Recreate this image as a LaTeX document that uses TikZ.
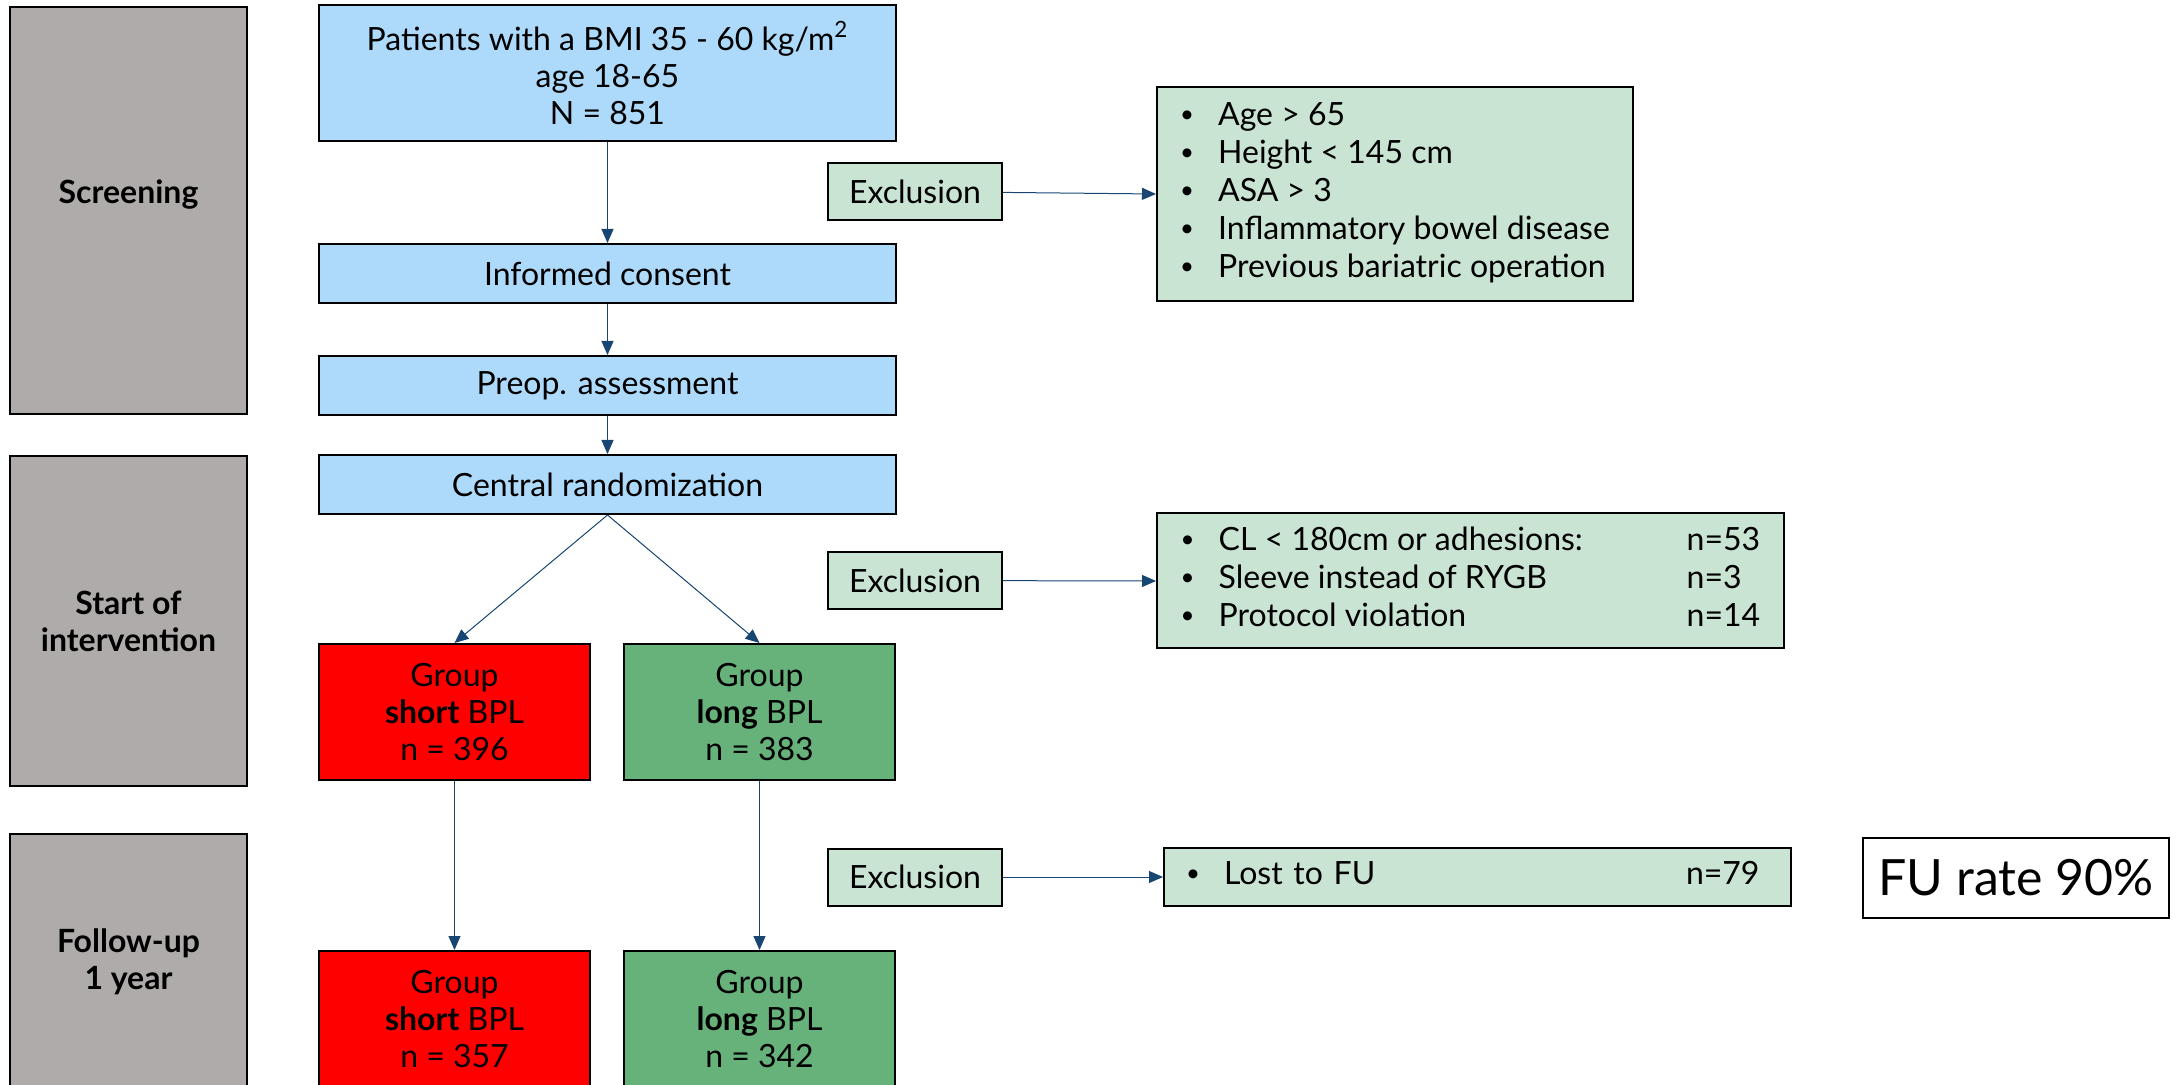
\documentclass[tikz,border=0pt]{standalone}
\usepackage{fontspec}
\setmainfont{Lato}
\usetikzlibrary{arrows.meta}

\definecolor{phasegray}{RGB}{175,171,171}
\definecolor{stepblue}{RGB}{173,218,251}
\definecolor{exclgreen}{RGB}{201,228,211}
\definecolor{longgreen}{RGB}{103,178,122}
\definecolor{arrowblue}{RGB}{23,70,115}

\newcommand{\blt}{\raisebox{0.2ex}{\fontsize{12}{12}\selectfont\textbullet}}

\tikzset{
    box/.style={draw=black, line width=1pt, align=center, inner sep=2pt, font=\fontsize{16}{18.5}\selectfont},
    phase/.style={box, fill=phasegray, minimum width=118.5pt},
    phaselabel/.style={align=center, font=\fontsize{16}{18.5}\selectfont\bfseries},
    stepbox/.style={box, fill=stepblue, minimum width=288.5pt, minimum height=29.5pt},
    shortgrp/.style={box, fill=red, minimum width=135.5pt, minimum height=68pt},
    longgrp/.style={box, fill=longgreen, minimum width=135.5pt, minimum height=68pt},
    excl/.style={box, fill=exclgreen, minimum width=87pt, minimum height=28.5pt},
    crit/.style={box, fill=exclgreen, align=left, anchor=west, inner xsep=9.5pt, font=\fontsize{16}{19}\selectfont},
    flow/.style={-{Triangle[length=7pt,width=6pt]}, draw=arrowblue, line width=0.5pt},
}

\begin{document}
\begin{tikzpicture}[x=0.5pt, y=-0.5pt]
    \useasboundingbox (0,0) rectangle (2176,1085);

    % phases
    \node[phase, minimum height=203.5pt, label={[phaselabel, yshift=8pt]center:Screening}] (scr) at (128.5,210.5) {};
    \node[phase, minimum height=165pt, font=\fontsize{16}{18.5}\selectfont\bfseries] (start) at (128.5,621) {Start of\\intervention};
    \node[phase, minimum height=133pt, label={[phaselabel, yshift=2.5pt]center:Follow-up\\1 year}] (fu) at (128.5,967) {};

    % screening steps
    \node[stepbox, minimum height=68pt] (pat) at (607.5,73) {Patients with a BMI 35 - 60 kg/m\textsuperscript{2}\\age 18-65\\N = 851};
    \node[stepbox] (cons) at (607.5,273.5) {Informed consent};
    \node[stepbox] (preop) at (607.5,385.5) {Preop. assessment};
    \node[stepbox] (rand) at (607.5,484.5) {Central randomization};

    % groups
    \node[shortgrp] (short) at (454.5,712) {Group\\\textbf{short} BPL\\n = 396};
    \node[longgrp] (long) at (759.5,712) {Group\\\textbf{long} BPL\\n = 383};
    \node[shortgrp] (short2) at (454.5,1019) {Group\\\textbf{short} BPL\\n = 357};
    \node[longgrp] (long2) at (759.5,1019) {Group\\\textbf{long} BPL\\n = 342};

    % exclusions
    \node[excl] (ex1) at (915,191.5) {Exclusion};
    \node[excl] (ex2) at (915,580.5) {Exclusion};
    \node[excl] (ex3) at (915,877) {Exclusion};

    \node[crit, minimum width=238pt, minimum height=107pt] (crit1) at (1156,194) {%
        \begin{tabular}{@{}p{19pt}@{}l@{}}
            \blt & Age > 65\\
            \blt & Height < 145 cm\\
            \blt & ASA > 3\\
            \blt & Inflammatory bowel disease\\
            \blt & Previous bariatric operation
        \end{tabular}};
    \node[crit, minimum width=313.5pt, minimum height=67.5pt] (crit2) at (1156,581) {%
        \begin{tabular}{@{}p{19pt}@{}p{234pt}@{}l@{}}
            \blt & CL < 180cm or adhesions: & n=53\\
            \blt & Sleeve instead of RYGB & n=3\\
            \blt & Protocol violation & n=14
        \end{tabular}};
    \node[crit, inner xsep=11pt, text width=291.5pt, minimum height=29pt] (crit3) at (1163,877) {%
        \begin{tabular}{@{}p{19pt}@{}p{231pt}@{}l@{}}
            \blt & Lost to FU & n=79
        \end{tabular}};

    \node[draw=black, line width=0.75pt, minimum width=153pt, minimum height=40pt, font=\fontsize{25}{30}\selectfont] (rate) at (2016,878) {FU rate 90\%};

    % arrows
    \draw[flow] (pat) -- (cons);
    \draw[flow] (cons) -- (preop);
    \draw[flow] (preop) -- (rand);
    \draw[flow] (rand.south) -- (short.north);
    \draw[flow] (rand.south) -- (long.north);
    \draw[flow] (short) -- (short2);
    \draw[flow] (long) -- (long2);
    \draw[flow] (ex1) -- (crit1.west);
    \draw[flow] (ex2) -- (crit2.west);
    \draw[flow] (ex3) -- (crit3.west);
\end{tikzpicture}
\end{document}
